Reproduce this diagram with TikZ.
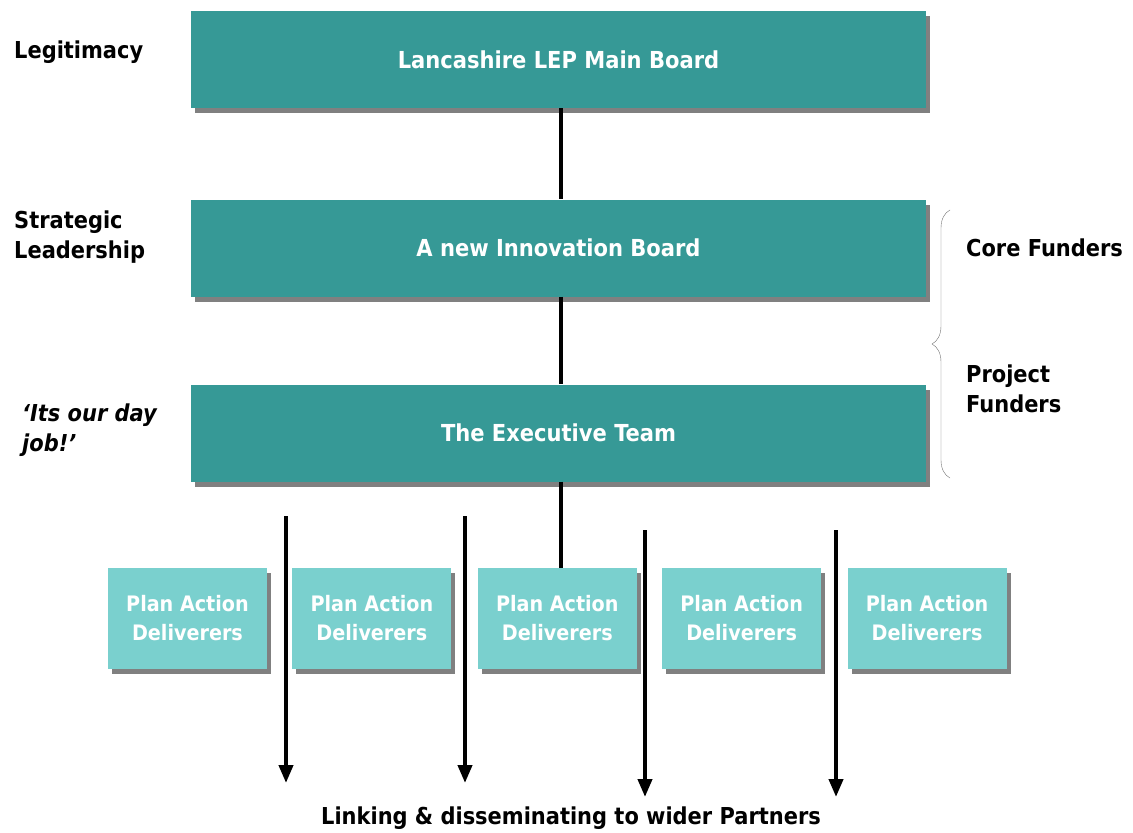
\documentclass[tikz,border=0pt]{standalone}
\usepackage{fontspec}
\setmainfont{DejaVu Sans Condensed}
\usetikzlibrary{arrows.meta,positioning,shadows,decorations.pathreplacing}
\definecolor{boardteal}{RGB}{54,153,150}
\definecolor{deliverteal}{RGB}{122,208,206}
\definecolor{shadowgrey}{RGB}{128,128,128}

\begin{document}
\begin{tikzpicture}[x=1pt,y=-1pt,
		board/.style={fill=boardteal,text=white,minimum width=735pt,minimum height=97pt,
			inner sep=0pt,font=\bfseries\fontsize{23.4}{28}\selectfont,
			drop shadow={shadow xshift=4pt,shadow yshift=-5pt,fill=shadowgrey,opacity=1}},
		deliverer/.style={fill=deliverteal,text=white,minimum width=159pt,minimum height=101pt,
			inner sep=0pt,align=center,font=\bfseries\fontsize{21.3}{29}\selectfont,
			drop shadow={shadow xshift=4pt,shadow yshift=-5pt,fill=shadowgrey,opacity=1}},
		sidelabel/.style={anchor=west,inner sep=0pt,align=left,font=\bfseries\fontsize{23.3}{30}\selectfont},
		link/.style={line width=4pt},
		flow/.style={line width=4pt,-{Triangle[length=18pt,width=14pt]}}]
	\useasboundingbox (0,0) rectangle (1133,833);
	% three boards
	\node[board] (main) at (558.5,59.5) {Lancashire LEP Main Board};
	\node[board] (innov) at (558.5,248) {A new Innovation Board};
	\node[board] (exec) at (558.5,433) {The Executive Team};
	% deliverers row
	\node[deliverer] (d1) at (187.5,618.5) {Plan Action\\Deliverers};
	\node[deliverer,right=25pt of d1] (d2) {Plan Action\\Deliverers};
	\node[deliverer,right=26pt of d2] (d3) {Plan Action\\Deliverers};
	\node[deliverer,right=25pt of d3] (d4) {Plan Action\\Deliverers};
	\node[deliverer,right=26pt of d4] (d5) {Plan Action\\Deliverers};
	% vertical links
	\draw[link] ([xshift=2.5pt]main.south) -- ([xshift=2.5pt]innov.north);
	\draw[link] ([xshift=2.5pt]innov.south) -- ([xshift=2.5pt]exec.north);
	\draw[link] ([xshift=2.5pt]exec.south) -- ([xshift=2.5pt]exec.south |- d3.north);
	% side labels
	\node[sidelabel] (legit) at (14,52) {Legitimacy};
	\node[sidelabel] (strat) at (14,237) {Strategic\\Leadership};
	\node[sidelabel,font=\bfseries\itshape\fontsize{23.3}{30}\selectfont] (dayjob) at (22,430) {`Its our day\\job!'};
	\node[sidelabel] (core) at (966,248) {Core Funders};
	\node[sidelabel] (project) at (966,389) {Project\\Funders};
	% brace
	\coordinate (bracetop) at (950,210);
	\coordinate (bracebot) at (950,478);
	\draw[black!55,thin,decorate,decoration={brace,amplitude=18pt,aspect=0.5}] (bracebot) -- (bracetop);
	% dissemination arrows
	\node[font=\bfseries\fontsize{23.3}{25}\selectfont,inner sep=0pt] (partners) at (571,818) {Linking \& disseminating to wider Partners};
	\coordinate (a1s) at (286,516); \coordinate (a1e) at (286,783);
	\coordinate (a2s) at (465,516); \coordinate (a2e) at (465,783);
	\coordinate (a3s) at (645,530); \coordinate (a3e) at (645,797);
	\coordinate (a4s) at (836,530); \coordinate (a4e) at (836,797);
	\draw[flow] (a1s) -- (a1e);
	\draw[flow] (a2s) -- (a2e);
	\draw[flow] (a3s) -- (a3e);
	\draw[flow] (a4s) -- (a4e);
\end{tikzpicture}
\end{document}
